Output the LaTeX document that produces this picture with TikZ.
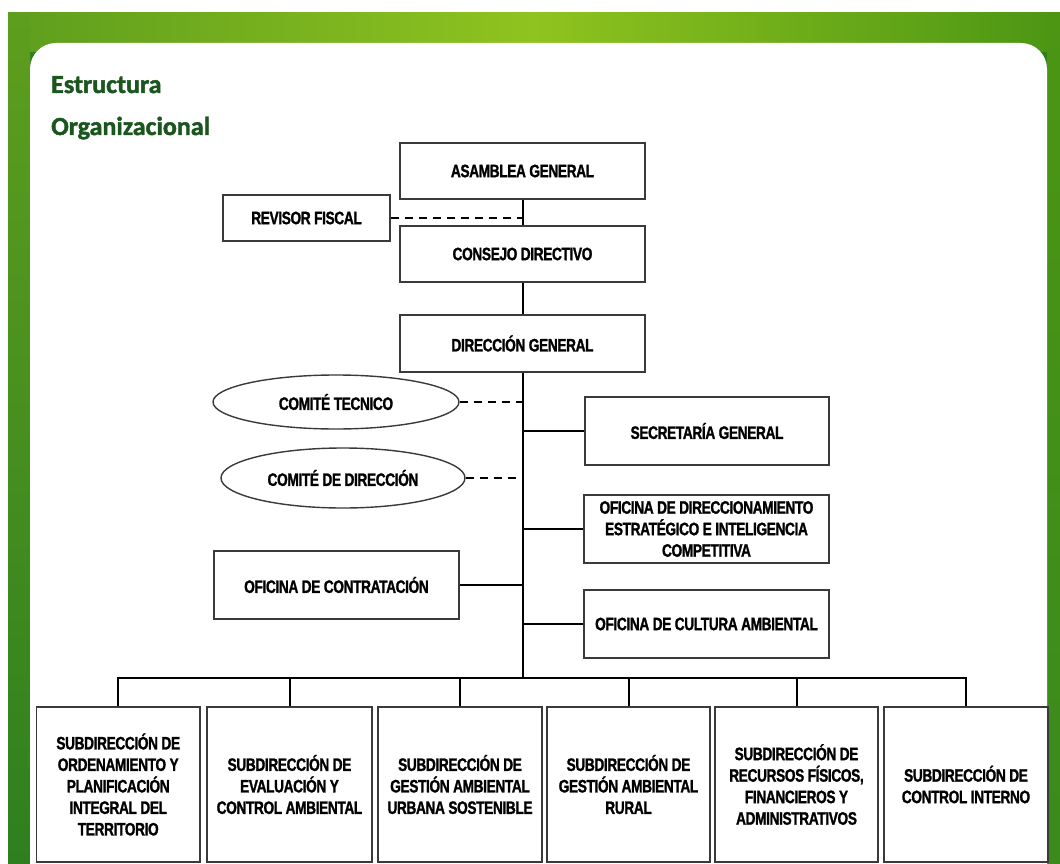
\documentclass[tikz,border=0pt]{standalone}
\usepackage{fontspec}
\usetikzlibrary{shapes.geometric}
\newfontfamily\boxfont[FakeStretch=0.76,FakeBold=1.3,LetterSpace=-2]{Liberation Sans}
\newfontfamily\titlefont[FakeBold=1.6]{Carlito}
\definecolor{titlegreen}{HTML}{1B561E}
\definecolor{boxgray}{HTML}{3A3A3A}
\definecolor{gdark}{HTML}{2F7F1F}
\definecolor{gleft}{HTML}{5E9E1E}
\definecolor{gmid}{HTML}{8FC31F}
\definecolor{gright}{HTML}{4C9614}
\definecolor{gside}{HTML}{3A8A1C}
\begin{document}
\begin{tikzpicture}[x=1pt,y=-1pt,
  org/.style={draw=boxgray, line width=1.4pt, fill=white, inner sep=0pt, align=center,
    font=\boxfont\bfseries\fontsize{18pt}{21.5pt}\selectfont},
  sz/.style 2 args={minimum width=#1pt, minimum height=#2pt},
  oval/.style={org, ellipse},
  link/.style={line width=2pt, black},
  dashlink/.style={line width=2pt, black, dash pattern=on 8pt off 6pt}
]
\useasboundingbox (0,0) rectangle (1060,864);
% background frame
\fill[white] (0,0) rectangle (1060,864);
\fill[gdark] (8,13) rectangle (1060,864);
\shade[left color=gleft, right color=gright, middle color=gmid] (8,13) rectangle (1060,52);
\shade[top color=gleft, bottom color=gdark] (8,13) rectangle (30,864);
\shade[top color=gright, bottom color=gside] (1047,13) rectangle (1060,864);
\fill[white] (30,900) {[rounded corners=26] -- (30,43) -- (1047,43)} -- (1047,900) -- cycle;

% title
\node[anchor=base west, inner sep=0pt, text=titlegreen, font=\titlefont\bfseries\fontsize{26pt}{30pt}\selectfont] (t1) at (51,93) {Estructura};
\node[anchor=base west, inner sep=0pt, text=titlegreen, font=\titlefont\bfseries\fontsize{26pt}{30pt}\selectfont] (t2) at (51,135) {Organizacional};

% top chain
\node[org, sz={245}{56}] (asam) at (522.5,171) {ASAMBLEA GENERAL};
\node[org, sz={167}{46}] (rev) at (306.5,218) {REVISOR FISCAL};
\node[org, sz={245}{56}] (cons) at (522.5,254) {CONSEJO DIRECTIVO};
\node[org, sz={245}{57}] (dir) at (522.5,343.5) {DIRECCIÓN GENERAL};

% committees
\node[oval, sz={246}{54}] (tec) at (336,402) {COMITÉ TECNICO};
\node[oval, sz={244}{60}] (cdir) at (343,478) {COMITÉ DE DIRECCIÓN};

% offices
\node[org, sz={244}{68}] (sec) at (707,431) {SECRETARÍA GENERAL};
\node[org, sz={245}{68}] (odir) at (706.5,529) {OFICINA DE DIRECCIONAMIENTO\\ESTRATÉGICO E INTELIGENCIA\\COMPETITIVA};
\node[org, sz={245}{68}] (ocon) at (336.5,585) {OFICINA DE CONTRATACIÓN};
\node[org, sz={245}{68}] (ocul) at (706.5,624) {OFICINA DE CULTURA AMBIENTAL};

% subdirections
\node[org, sz={163.5}{155}] (b1) at (118.25,784.5) {SUBDIRECCIÓN DE\\ORDENAMIENTO Y\\PLANIFICACIÓN\\INTEGRAL DEL\\TERRITORIO};
\node[org, sz={165}{155}] (b2) at (289.5,784.5) {SUBDIRECCIÓN DE\\EVALUACIÓN Y\\CONTROL AMBIENTAL};
\node[org, sz={164}{155}] (b3) at (460,784.5) {SUBDIRECCIÓN DE\\GESTIÓN AMBIENTAL\\URBANA SOSTENIBLE};
\node[org, sz={163}{155}] (b4) at (628.5,784.5) {SUBDIRECCIÓN DE\\GESTIÓN AMBIENTAL\\RURAL};
\node[org, sz={163}{155}] (b5) at (796.5,784.5) {SUBDIRECCIÓN DE\\RECURSOS FÍSICOS,\\FINANCIEROS Y\\ADMINISTRATIVOS};
\node[org, sz={164}{155}] (b6) at (966,784.5) {SUBDIRECCIÓN DE\\CONTROL INTERNO};

\coordinate (bus) at (522.5,678);

% connectors
\draw[link] (asam.south) -- (cons.north);
\draw[link] (cons.south) -- (dir.north);
\draw[link] (dir.south) -- (bus);
\draw[dashlink] (rev.east) -- (rev.east -| asam.south);
\draw[dashlink] (tec.east) -- (tec.east -| dir.south);
\draw[dashlink] (cdir.east) -- (cdir.east -| dir.south);
\draw[link] (sec.west) -- (sec.west -| dir.south);
\draw[link] (odir.west) -- (odir.west -| dir.south);
\draw[link] (ocon.east) -- (ocon.east -| dir.south);
\draw[link] (ocul.west) -- (ocul.west -| dir.south);
\draw[link] (b1.north) |- (bus) -| (b6.north);
\foreach \b in {b2,b3,b4,b5} \draw[link] (\b.north) -- (\b.north |- bus);
\end{tikzpicture}
\end{document}
